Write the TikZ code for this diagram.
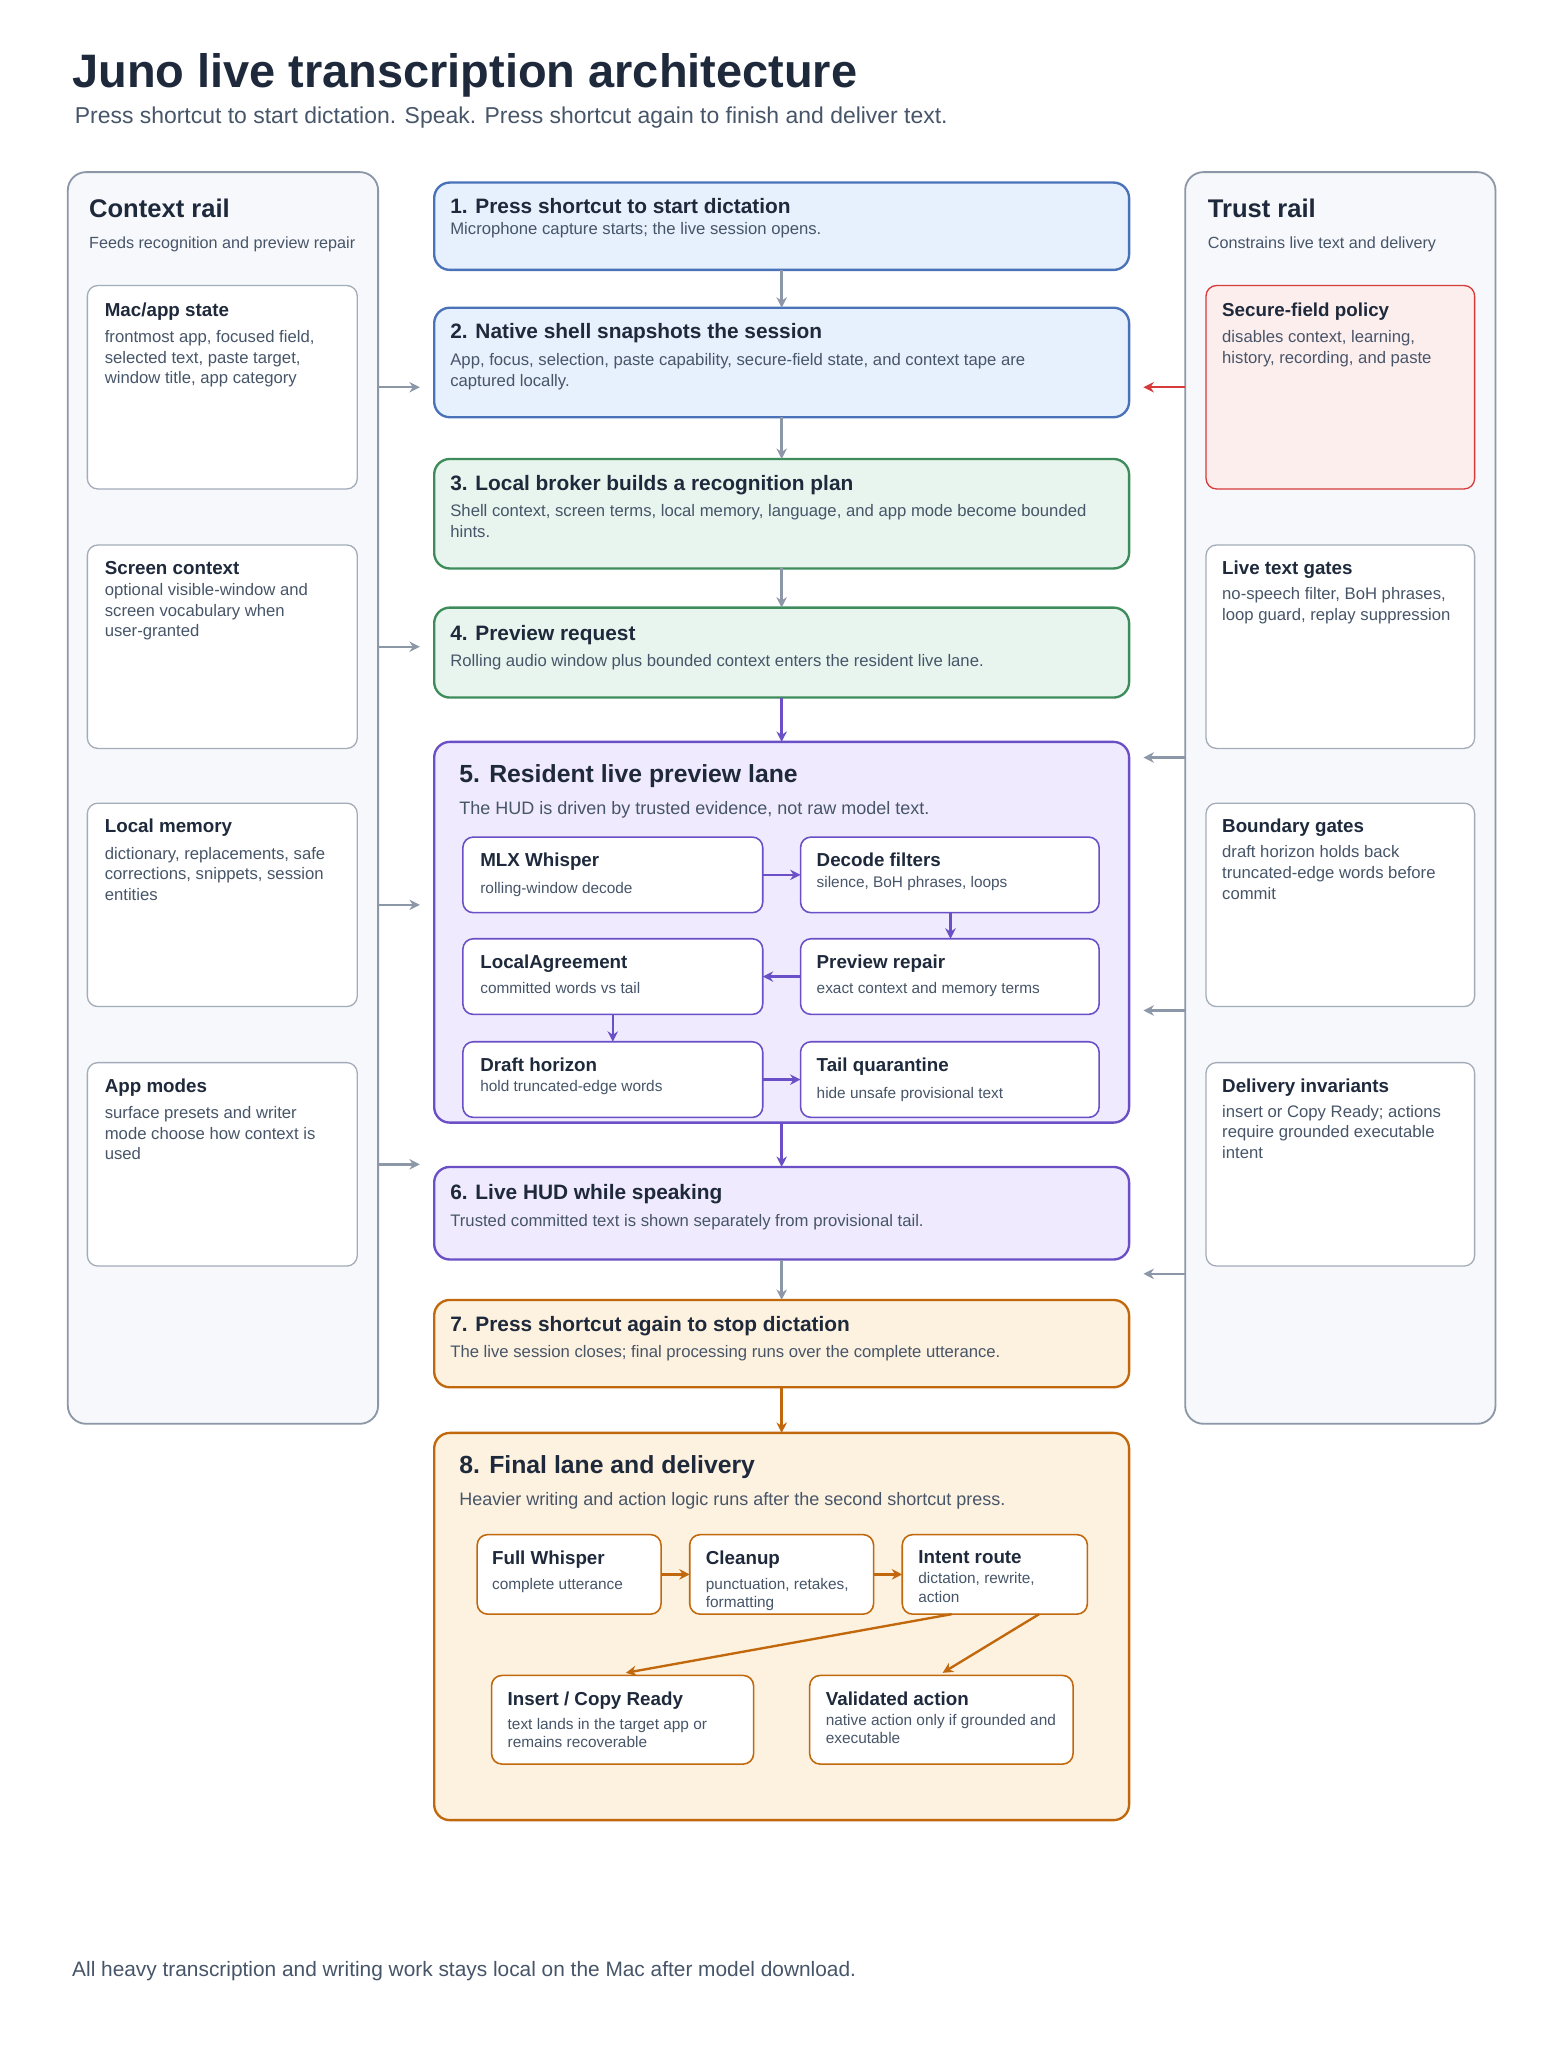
\documentclass[tikz,border=0pt]{standalone}
\usepackage{fontspec}
\setmainfont{Liberation Sans}
\usetikzlibrary{arrows.meta,calc}
\definecolor{ink}{HTML}{1E293B}
\definecolor{sub}{HTML}{475569}
\definecolor{railfill}{HTML}{F6F8FB}
\definecolor{railline}{HTML}{8C97A8}
\definecolor{bluef}{HTML}{E7F0FD}\definecolor{bluel}{HTML}{4A72B8}
\definecolor{greenf}{HTML}{E7F5EE}\definecolor{greenl}{HTML}{3E8C5C}
\definecolor{purpf}{HTML}{EFEAFD}\definecolor{purpl}{HTML}{6A4FC6}
\definecolor{orgf}{HTML}{FDF1DF}\definecolor{orgl}{HTML}{C2680C}
\definecolor{redf}{HTML}{FDEEEE}\definecolor{redl}{HTML}{D63A3A}
\newcommand{\bx}[6]{\node[#6, minimum width={(#4-#2)*0.5pt}, minimum height={(#5-#3)*0.5pt}, anchor=north west, inner sep=0pt, outer sep=0pt] (#1) at (#2,#3) {};}
% \tb{name}{x}{y}{titlefont}{title}{descfont}{desc}{gap}
\newcommand{\tb}[8]{\node[txt, font=#4] (#1t) at (#2,#3) {#5};
 \node[txt, text=sub, font=#6] (#1d) at ([yshift=-#8pt]#1t.south west) {#7};}
\tikzset{
 rail/.style={draw=railline, fill=railfill, rounded corners=7pt, line width=0.7pt},
 card/.style={draw=railline!80, fill=white, rounded corners=4pt, line width=0.5pt},
 bluebox/.style={draw=bluel, fill=bluef, rounded corners=6pt, line width=0.9pt},
 greenbox/.style={draw=greenl, fill=greenf, rounded corners=6pt, line width=0.9pt},
 purpbox/.style={draw=purpl, fill=purpf, rounded corners=6pt, line width=0.9pt},
 orgbox/.style={draw=orgl, fill=orgf, rounded corners=6pt, line width=0.9pt},
 pin/.style={draw=purpl, fill=white, rounded corners=4pt, line width=0.6pt},
 oin/.style={draw=orgl, fill=white, rounded corners=4pt, line width=0.6pt},
 txt/.style={anchor=north west, inner sep=0pt, align=left, text=ink},
 garr/.style={draw=railline, line width=0.9pt, -{Stealth[length=4pt,width=4pt]}},
 parr/.style={draw=purpl, line width=0.9pt, -{Stealth[length=4pt,width=4pt]}},
 oarr/.style={draw=orgl, line width=0.9pt, -{Stealth[length=4pt,width=4pt]}},
 rarr/.style={draw=redl, line width=0.9pt, -{Stealth[length=4pt,width=4pt]}},
}
\def\TA{\fontsize{8}{9.5}\selectfont\bfseries}
\def\DA{\fontsize{6.4}{7.9}\selectfont}
\def\TB{\fontsize{7.2}{8.5}\selectfont\bfseries}
\def\DB{\fontsize{5.9}{7}\selectfont}
\begin{document}
\begin{tikzpicture}[x=0.5pt,y=-0.5pt]
\fill[white] (0,0) rectangle (1200,1570);
\useasboundingbox (0,0) rectangle (1200,1570);
\node[txt, anchor=west, font=\fontsize{18}{20}\selectfont\bfseries] (title) at (55,58) {Juno live transcription architecture};
\node[txt, anchor=west, text=sub, font=\fontsize{8.8}{10}\selectfont] (subtitle) at (57,90) {Press shortcut to start dictation. Speak. Press shortcut again to finish and deliver text.};
% rails
\bx{ctx}{52}{132}{290}{1092}{rail}
\tb{ctx}{68}{152}{\fontsize{9.8}{11}\selectfont\bfseries}{Context rail}{\fontsize{6.2}{7}\selectfont}{Feeds recognition and preview repair}{7}
\bx{tru}{909}{132}{1147}{1092}{rail}
\tb{tru}{926}{152}{\fontsize{9.8}{11}\selectfont\bfseries}{Trust rail}{\fontsize{6.2}{7}\selectfont}{Constrains live text and delivery}{7}
% context cards
\bx{c1}{67}{219}{274}{375}{card}
\tb{c1}{80}{232}{\TB}{Mac/app state}{\DA}{frontmost app, focused field,\\selected text, paste target,\\window title, app category}{3.5}
\bx{c2}{67}{418}{274}{574}{card}
\tb{c2}{80}{430}{\TB}{Screen context}{\DA}{optional visible-window and\\screen vocabulary when\\user-granted}{3}
\bx{c3}{67}{616}{274}{772}{card}
\tb{c3}{80}{628}{\TB}{Local memory}{\DA}{dictionary, replacements, safe\\corrections, snippets, session\\entities}{3.5}
\bx{c4}{67}{815}{274}{971}{card}
\tb{c4}{80}{827}{\TB}{App modes}{\DA}{surface presets and writer\\mode choose how context is\\used}{3.5}
% trust cards
\bx{t1}{925}{219}{1131}{375}{card, fill=redf, draw=redl}
\tb{t1}{937}{232}{\TB}{Secure-field policy}{\DA}{disables context, learning,\\history, recording, and paste}{3.5}
\bx{t2}{925}{418}{1131}{574}{card}
\tb{t2}{937}{430}{\TB}{Live text gates}{\DA}{no-speech filter, BoH phrases,\\loop guard, replay suppression}{3}
\bx{t3}{925}{616}{1131}{772}{card}
\tb{t3}{937}{628}{\TB}{Boundary gates}{\DA}{draft horizon holds back\\truncated-edge words before\\commit}{3}
\bx{t4}{925}{815}{1131}{971}{card}
\tb{t4}{937}{827}{\TB}{Delivery invariants}{\DA}{insert or Copy Ready; actions\\require grounded executable\\intent}{3}
% center boxes
\bx{b1}{333}{140}{866}{207}{bluebox}
\tb{b1}{345}{152}{\TA}{1. Press shortcut to start dictation}{\DA}{Microphone capture starts; the live session opens.}{3}
\bx{b2}{333}{236}{866}{320}{bluebox}
\tb{b2}{345}{248}{\TA}{2. Native shell snapshots the session}{\DA}{App, focus, selection, paste capability, secure-field state, and context tape are\\captured locally.}{3.5}
\bx{b3}{333}{352}{866}{436}{greenbox}
\tb{b3}{345}{364}{\TA}{3. Local broker builds a recognition plan}{\DA}{Shell context, screen terms, local memory, language, and app mode become bounded\\hints.}{3.5}
\bx{b4}{333}{466}{866}{535}{greenbox}
\tb{b4}{345}{479}{\TA}{4. Preview request}{\DA}{Rolling audio window plus bounded context enters the resident live lane.}{3.5}
\bx{b5}{333}{569}{866}{861}{purpbox}
\tb{b5}{352}{586}{\fontsize{9.5}{11}\selectfont\bfseries}{5. Resident live preview lane}{\fontsize{6.9}{8}\selectfont}{The HUD is driven by trusted evidence, not raw model text.}{5}
\bx{p1}{355}{642}{585}{700}{pin}
\tb{p1}{368}{654}{\TB}{MLX Whisper}{\DB}{rolling-window decode}{4}
\bx{p2}{614}{642}{843}{700}{pin}
\tb{p2}{626}{654}{\TB}{Decode filters}{\DB}{silence, BoH phrases, loops}{3}
\bx{p3}{355}{720}{585}{778}{pin}
\tb{p3}{368}{732}{\TB}{LocalAgreement}{\DB}{committed words vs tail}{3.5}
\bx{p4}{614}{720}{843}{778}{pin}
\tb{p4}{626}{732}{\TB}{Preview repair}{\DB}{exact context and memory terms}{3.5}
\bx{p5}{355}{799}{585}{857}{pin}
\tb{p5}{368}{811}{\TB}{Draft horizon}{\DB}{hold truncated-edge words}{3}
\bx{p6}{614}{799}{843}{857}{pin}
\tb{p6}{626}{811}{\TB}{Tail quarantine}{\DB}{hide unsafe provisional text}{4}
\bx{b6}{333}{895}{866}{966}{purpbox}
\tb{b6}{345}{908}{\TA}{6. Live HUD while speaking}{\DA}{Trusted committed text is shown separately from provisional tail.}{3.5}
\bx{b7}{333}{997}{866}{1064}{orgbox}
\tb{b7}{345}{1009}{\TA}{7. Press shortcut again to stop dictation}{\DA}{The live session closes; final processing runs over the complete utterance.}{3.5}
\bx{b8}{333}{1099}{866}{1396}{orgbox}
\tb{b8}{352}{1116}{\fontsize{9.5}{11}\selectfont\bfseries}{8. Final lane and delivery}{\fontsize{6.9}{8}\selectfont}{Heavier writing and action logic runs after the second shortcut press.}{5}
\bx{o1}{366}{1177}{507}{1238}{oin}
\tb{o1}{377}{1189}{\TB}{Full Whisper}{\DB}{complete utterance}{3.5}
\bx{o2}{529}{1177}{670}{1238}{oin}
\tb{o2}{541}{1189}{\TB}{Cleanup}{\DB}{punctuation, retakes,\\formatting}{3.5}
\bx{o3}{692}{1177}{834}{1238}{oin}
\tb{o3}{704}{1189}{\TB}{Intent route}{\DB}{dictation, rewrite,\\action}{3}
\bx{o4}{377}{1285}{578}{1353}{oin}
\tb{o4}{389}{1297}{\TB}{Insert / Copy Ready}{\DB}{text lands in the target app or\\remains recoverable}{3}
\bx{o5}{621}{1285}{823}{1353}{oin}
\tb{o5}{633}{1297}{\TB}{Validated action}{\DB}{native action only if grounded and\\executable}{3}
% main arrows
\draw[garr] (b1.south) -- (b2.north);
\draw[garr] (b2.south) -- (b3.north);
\draw[garr] (b3.south) -- (b4.north);
\draw[parr] (b4.south) -- (b5.north);
\draw[parr] (b5.south) -- (b6.north);
\draw[garr] (b6.south) -- (b7.north);
\draw[oarr] (b7.south) -- (b8.north);
% lane 5 arrows
\draw[parr] (p1.east) -- (p2.west);
\coordinate (d1) at ($(p2.south west)+(115,0)$);
\draw[parr] (d1) -- (d1 |- p4.north);
\draw[parr] (p4.west) -- (p3.east);
\coordinate (d2) at ($(p3.south west)+(115,0)$);
\draw[parr] (d2) -- (d2 |- p5.north);
\draw[parr] (p5.east) -- (p6.west);
% lane 8 arrows
\draw[oarr] (o1.east) -- (o2.west);
\draw[oarr] (o2.east) -- (o3.west);
\coordinate (i1) at ($(o3.south west)+(38,0)$);
\coordinate (i2) at ($(o4.north west)+(103,-2)$);
\draw[oarr] (i1) -- (i2);
\coordinate (i3) at ($(o3.south west)+(105,0)$);
\coordinate (i4) at ($(o5.north west)+(102,-2)$);
\draw[oarr] (i3) -- (i4);
% context arrows
\foreach \c in {c1,c2,c3,c4} {
 \coordinate (\c a) at (ctx.east |- \c.east);
 \draw[garr] (\c a) -- ++(32,0);
}
% trust arrows
\coordinate (q1) at (tru.west |- t1.west);
\draw[rarr] (q1) -- ++(-32,0);
\coordinate (q2) at (909,581); \coordinate (q3) at (909,775); \coordinate (q4) at (909,977);
\draw[garr] (q2) -- ++(-32,0);
\draw[garr] (q3) -- ++(-32,0);
\draw[garr] (q4) -- ++(-32,0);
\node[txt, anchor=west, text=sub, font=\fontsize{8}{9}\selectfont] (foot) at (55,1512) {All heavy transcription and writing work stays local on the Mac after model download.};
\end{tikzpicture}
\end{document}
